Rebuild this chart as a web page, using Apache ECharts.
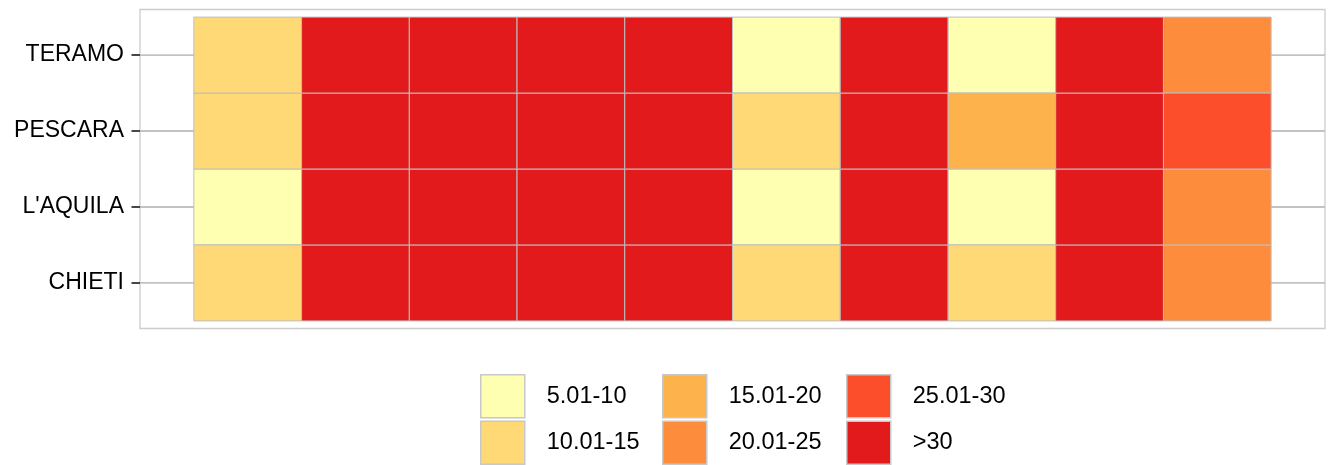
<!DOCTYPE html>
<html>
<head>
<meta charset="utf-8">
<script src="https://cdn.jsdelivr.net/npm/echarts@6/dist/echarts.min.js"></script>
<style>
  html, body { margin: 0; padding: 0; background: #fff; }
  #chart { width: 1330px; height: 465px; }
</style>
</head>
<body>
<div id="chart"></div>
<script>
// province rows, bottom to top
const provinces = ['CHIETI', "L'AQUILA", 'PESCARA', 'TERAMO']
// class bins and their colours
const bins = ['5.01-10', '10.01-15', '15.01-20', '20.01-25', '25.01-30', '>30']
const binColors = ['#FFFFB2', '#FED976', '#FEB24C', '#FD8D3C', '#FC4E2A', '#E31A1C']
// ten columns per province
const columns = [1, 2, 3, 4, 5, 6, 7, 8, 9, 10]
const chieti = ['10.01-15', '>30', '>30', '>30', '>30', '10.01-15', '>30', '10.01-15', '>30', '20.01-25']
const aquila = ['5.01-10', '>30', '>30', '>30', '>30', '5.01-10', '>30', '5.01-10', '>30', '20.01-25']
const pescara = ['10.01-15', '>30', '>30', '>30', '>30', '10.01-15', '>30', '15.01-20', '>30', '25.01-30']
const teramo = ['10.01-15', '>30', '>30', '>30', '>30', '5.01-10', '>30', '5.01-10', '>30', '20.01-25']

const rowsData = [chieti, aquila, pescara, teramo]
const X_MIN = 0
const X_MAX = 11

const FONT = "'Liberation Sans', Arial, sans-serif"

const chart = echarts.init(document.getElementById('chart'))

// 每个分级一个系列，方便图例
const tileSeries = bins.map((bin, b) => {
  const data = []
  rowsData.forEach((row, r) => {
    row.forEach((v, c) => {
      if (v === bin) data.push([columns[c], r + 1])
    })
  })
  return {
    name: bin,
    type: 'custom',
    z: 3,
    itemStyle: { color: binColors[b], borderColor: '#BEBEBE', borderWidth: 1 },
    renderItem: (params, api) => {
      const x = api.value(0)
      const y = api.value(1)
      const p = api.coord([x - 0.5, y + 0.5])
      const s = api.size([1, 1])
      return {
        type: 'rect',
        shape: { x: p[0], y: p[1], width: s[0], height: s[1] },
        style: { fill: binColors[b], stroke: '#BEBEBE', lineWidth: 1 }
      }
    },
    data
  }
})

// horizontal grid lines at row centres
const gridLineSeries = {
  type: 'custom',
  z: 1,
  silent: true,
  renderItem: (params, api) => {
    const y = api.value(0)
    const a = api.coord([X_MIN, y])
    const b = api.coord([X_MAX, y])
    return {
      type: 'line',
      shape: { x1: a[0], y1: a[1], x2: b[0], y2: b[1] },
      style: { stroke: '#C2C2C2', lineWidth: 1.8 }
    }
  },
  data: provinces.map((p, i) => [i + 1])
}

const legendBase = {
  orient: 'vertical',
  top: 374,
  padding: 0,
  icon: 'rect',
  itemWidth: 44,
  itemHeight: 43,
  itemGap: 2,
  selectedMode: false,
  textStyle: { fontSize: 23.5, fontFamily: FONT, color: '#000', padding: [4, 0, 0, 17] },
  itemStyle: { borderColor: '#C8C8C8', borderWidth: 1.5 }
}

chart.setOption({
  backgroundColor: '#fff',
  animation: false,
  color: binColors,
  grid: {
    left: 140,
    right: 5,
    top: 9.5,
    height: 319,
    show: true,
    borderColor: '#CCCCCC',
    borderWidth: 1.3,
    backgroundColor: 'transparent'
  },
  legend: [
    { ...legendBase, left: 480, data: [bins[0], bins[1]] },
    { ...legendBase, left: 662, data: [bins[2], bins[3]] },
    { ...legendBase, left: 846, data: [bins[4], bins[5]] }
  ],
  xAxis: {
    type: 'value',
    min: X_MIN,
    max: X_MAX,
    show: false
  },
  yAxis: {
    type: 'value',
    min: 0.4,
    max: 4.6,
    axisLine: { show: false },
    splitLine: { show: false },
    axisTick: {
      show: true,
      length: 8.5,
      customValues: [1, 2, 3, 4],
      lineStyle: { color: '#333333', width: 1.8 }
    },
    axisLabel: {
      customValues: [1, 2, 3, 4],
      margin: 16,
      fontSize: 23,
      fontFamily: FONT,
      color: '#000',
      padding: [4, 0, 0, 0],
      formatter: (v) => provinces[Math.round(v) - 1]
    }
  },
  series: [gridLineSeries, ...tileSeries]
})
</script>
</body>
</html>
